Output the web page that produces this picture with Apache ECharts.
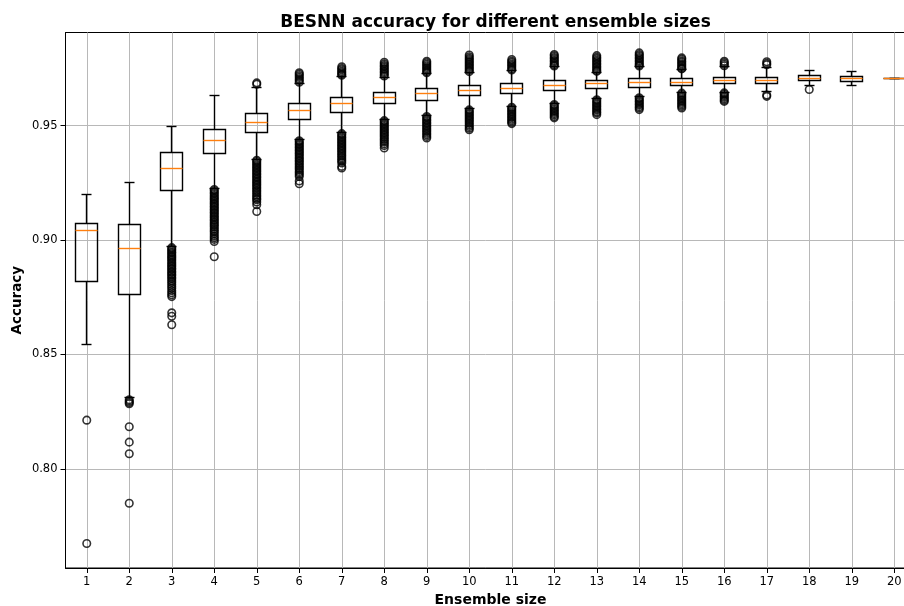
<!DOCTYPE html>
<html>
<head>
<meta charset="utf-8">
<script src="https://cdn.jsdelivr.net/npm/echarts@6/dist/echarts.min.js"></script>
<style>
  html, body { margin: 0; padding: 0; background: #fff; }
  #chart { width: 904px; height: 606px; }
</style>
</head>
<body>
<div id="chart"></div>
<script>
// Ensemble sizes on the x axis
const sizes = ['1','2','3','4','5','6','7','8','9','10','11','12','13','14','15','16','17','18','19','20'];

// Box statistics per ensemble size
const whiskerLow  = [0.8542, 0.8313, 0.8972, 0.9226, 0.9354, 0.9439, 0.9468, 0.9526, 0.9544, 0.9573,
                     0.9584, 0.9596, 0.9617, 0.9626, 0.9646, 0.9647, 0.9650, 0.9675, 0.9676, 0.9706];
const q1          = [0.8817, 0.8762, 0.9216, 0.9377, 0.9468, 0.9526, 0.9558, 0.9595, 0.9609, 0.9631,
                     0.9639, 0.9653, 0.9661, 0.9668, 0.9675, 0.9684, 0.9684, 0.9697, 0.9691, 0.9706];
const median      = [0.9042, 0.8963, 0.9312, 0.9437, 0.9513, 0.9564, 0.9595, 0.9624, 0.9640, 0.9653,
                     0.9661, 0.9676, 0.9684, 0.9689, 0.9689, 0.9698, 0.9698, 0.9707, 0.9706, 0.9706];
const q3          = [0.9071, 0.9068, 0.9381, 0.9482, 0.9551, 0.9596, 0.9624, 0.9647, 0.9662, 0.9676,
                     0.9684, 0.9698, 0.9698, 0.9706, 0.9706, 0.9711, 0.9711, 0.9720, 0.9713, 0.9706];
const whiskerHigh = [0.9199, 0.9252, 0.9497, 0.9631, 0.9665, 0.9684, 0.9716, 0.9712, 0.9728, 0.9732,
                     0.9739, 0.9758, 0.9734, 0.9758, 0.9745, 0.9757, 0.9755, 0.9742, 0.9735, 0.9706];

// Fliers beyond the whiskers, one list per ensemble size
const outliers = [
  [0.8213, 0.7674],
  [0.8302, 0.8296, 0.8290, 0.8285, 0.8184, 0.8117, 0.8066, 0.7850],
  [0.8967, 0.8961, 0.8955, 0.8948, 0.8943, 0.8936, 0.8929, 0.8924, 0.8917, 0.8911, 0.8903, 0.8897,
   0.8890, 0.8884, 0.8877, 0.8872, 0.8864, 0.8858, 0.8851, 0.8845, 0.8837, 0.8831, 0.8822, 0.8815,
   0.8806, 0.8797, 0.8789, 0.8779, 0.8770, 0.8761, 0.8753, 0.8682, 0.8667, 0.8630],
  [0.9221, 0.9215, 0.9208, 0.9202, 0.9195, 0.9188, 0.9182, 0.9176, 0.9169, 0.9162, 0.9156, 0.9149,
   0.9143, 0.9136, 0.9130, 0.9123, 0.9117, 0.9110, 0.9103, 0.9097, 0.9090, 0.9084, 0.9077, 0.9070,
   0.9064, 0.9057, 0.9049, 0.9042, 0.9035, 0.9027, 0.9018, 0.9010, 0.9003, 0.8994, 0.8927],
  [0.9687, 0.9681,
   0.9349, 0.9343, 0.9337, 0.9330, 0.9324, 0.9317, 0.9311, 0.9304, 0.9298, 0.9291, 0.9285, 0.9278,
   0.9272, 0.9265, 0.9258, 0.9252, 0.9245, 0.9239, 0.9232, 0.9225, 0.9218, 0.9211, 0.9204, 0.9196,
   0.9189, 0.9182, 0.9176, 0.9166, 0.9154, 0.9125],
  [0.9731, 0.9725, 0.9718, 0.9711, 0.9704, 0.9697, 0.9690,
   0.9434, 0.9428, 0.9421, 0.9415, 0.9408, 0.9402, 0.9395, 0.9389, 0.9382, 0.9376, 0.9369, 0.9362,
   0.9356, 0.9349, 0.9343, 0.9336, 0.9329, 0.9322, 0.9315, 0.9308, 0.9300, 0.9293, 0.9285, 0.9278,
   0.9258, 0.9246],
  [0.9757, 0.9750, 0.9744, 0.9737, 0.9731, 0.9725, 0.9720,
   0.9465, 0.9459, 0.9452, 0.9446, 0.9439, 0.9433, 0.9426, 0.9420, 0.9413, 0.9407, 0.9400, 0.9394,
   0.9387, 0.9380, 0.9373, 0.9366, 0.9359, 0.9351, 0.9344, 0.9337, 0.9322, 0.9315],
  [0.9777, 0.9770, 0.9763, 0.9757, 0.9750, 0.9744, 0.9737, 0.9731, 0.9724, 0.9717,
   0.9522, 0.9516, 0.9509, 0.9503, 0.9496, 0.9490, 0.9483, 0.9477, 0.9470, 0.9464, 0.9457, 0.9450,
   0.9443, 0.9436, 0.9429, 0.9421, 0.9413, 0.9402],
  [0.9781, 0.9775, 0.9768, 0.9762, 0.9755, 0.9749, 0.9742, 0.9736, 0.9731,
   0.9540, 0.9534, 0.9527, 0.9521, 0.9514, 0.9508, 0.9501, 0.9495, 0.9488, 0.9481, 0.9474, 0.9467,
   0.9460, 0.9453, 0.9446],
  [0.9809, 0.9801, 0.9794, 0.9788, 0.9781, 0.9775, 0.9768, 0.9762, 0.9755, 0.9749, 0.9742, 0.9736,
   0.9569, 0.9563, 0.9556, 0.9550, 0.9543, 0.9537, 0.9530, 0.9524, 0.9517, 0.9510, 0.9503, 0.9496,
   0.9489, 0.9482],
  [0.9789, 0.9782, 0.9776, 0.9769, 0.9763, 0.9756, 0.9749, 0.9743,
   0.9580, 0.9574, 0.9567, 0.9561, 0.9554, 0.9548, 0.9541, 0.9535, 0.9528, 0.9521, 0.9515, 0.9509],
  [0.9811, 0.9805, 0.9798, 0.9792, 0.9785, 0.9779, 0.9772, 0.9766, 0.9761,
   0.9592, 0.9586, 0.9579, 0.9573, 0.9566, 0.9560, 0.9553, 0.9547, 0.9540, 0.9534],
  [0.9806, 0.9799, 0.9793, 0.9786, 0.9780, 0.9773, 0.9767, 0.9760, 0.9754, 0.9747, 0.9741, 0.9737,
   0.9613, 0.9607, 0.9600, 0.9594, 0.9587, 0.9581, 0.9574, 0.9568, 0.9561, 0.9555, 0.9548],
  [0.9818, 0.9811, 0.9805, 0.9798, 0.9792, 0.9785, 0.9779, 0.9772, 0.9766, 0.9761,
   0.9622, 0.9616, 0.9609, 0.9603, 0.9596, 0.9590, 0.9583, 0.9577, 0.9570],
  [0.9796, 0.9790, 0.9783, 0.9777, 0.9770, 0.9764, 0.9757, 0.9751, 0.9748,
   0.9642, 0.9636, 0.9629, 0.9623, 0.9616, 0.9610, 0.9603, 0.9597, 0.9590, 0.9584, 0.9577],
  [0.9781, 0.9775, 0.9768, 0.9762,
   0.9643, 0.9637, 0.9630, 0.9624, 0.9617, 0.9611, 0.9606],
  [0.9779, 0.9772, 0.9766, 0.9634, 0.9628],
  [0.9658],
  [],
  []
];

// Y axis tick values
const yTicks = [0.80, 0.85, 0.90, 0.95];

const FONT = 'DejaVu Sans';
const GRID_COLOR = '#b8b8b8';
const BOX_COLOR = '#000000';
const MEDIAN_COLOR = '#ff7f0e';

const boxData = sizes.map((s, i) => [i, whiskerLow[i], q1[i], median[i], q3[i], whiskerHigh[i]]);
const flierData = [];
outliers.forEach((list, i) => list.forEach(v => flierData.push([i, v])));

function crisp(v) { return Math.round(v - 0.5) + 0.5; }

function renderBox(params, api) {
  const idx = api.value(0);
  const cx = crisp(api.coord([idx, api.value(3)])[0]);
  const yLo = crisp(api.coord([idx, api.value(1)])[1]);
  const yQ1 = crisp(api.coord([idx, api.value(2)])[1]);
  const yMed = crisp(api.coord([idx, api.value(3)])[1]);
  const yQ3 = crisp(api.coord([idx, api.value(4)])[1]);
  const yHi = crisp(api.coord([idx, api.value(5)])[1]);
  const band = api.size([1, 0])[0];
  const half = Math.round(band * 0.25);
  const cap = Math.round(band * 0.125);
  const lineStyle = { stroke: BOX_COLOR, lineWidth: 1.4, fill: null };
  return {
    type: 'group',
    children: [
      { type: 'line', shape: { x1: cx, y1: yQ3, x2: cx, y2: yHi }, style: lineStyle },
      { type: 'line', shape: { x1: cx, y1: yQ1, x2: cx, y2: yLo }, style: lineStyle },
      { type: 'line', shape: { x1: cx - cap, y1: yHi, x2: cx + cap, y2: yHi }, style: lineStyle },
      { type: 'line', shape: { x1: cx - cap, y1: yLo, x2: cx + cap, y2: yLo }, style: lineStyle },
      { type: 'rect', shape: { x: cx - half, y: yQ3, width: 2 * half, height: yQ1 - yQ3 },
        style: { stroke: BOX_COLOR, lineWidth: 1.4, fill: 'none' } },
      { type: 'line', shape: { x1: cx - half, y1: yMed, x2: cx + half, y2: yMed },
        style: { stroke: MEDIAN_COLOR, lineWidth: 1.4 } }
    ]
  };
}

const chart = echarts.init(document.getElementById('chart'), null, { renderer: 'canvas' });

chart.setOption({
  animation: false,
  backgroundColor: '#ffffff',
  title: {
    text: 'BESNN accuracy for different ensemble sizes',
    left: 490.5,
    top: 9,
    textAlign: 'center',
    textStyle: { fontFamily: FONT, fontSize: 17, fontWeight: 'bold', color: '#000' }
  },
  grid: {
    left: 65.5,
    right: -11.5,
    top: 32.5,
    bottom: 38,
    show: true,
    borderColor: '#000',
    borderWidth: 1,
    backgroundColor: 'transparent',
    containLabel: false,
    outerBoundsMode: 'none'
  },
  xAxis: {
    type: 'category',
    data: sizes,
    boundaryGap: true,
    name: 'Ensemble size',
    nameLocation: 'middle',
    nameGap: 25,
    nameMoveOverlap: false,
    nameTextStyle: { fontFamily: FONT, fontSize: 14, fontWeight: 'bold', color: '#000' },
    axisLine: { show: true, lineStyle: { color: '#000', width: 1 } },
    axisTick: { show: true, alignWithLabel: true, length: 5, lineStyle: { color: '#000' } },
    axisLabel: { interval: 0, margin: 8, fontFamily: FONT, fontSize: 11.5, color: '#000' },
    splitLine: { show: false }
  },
  yAxis: {
    type: 'value',
    min: 0.7567,
    max: 0.9907,
    name: 'Accuracy',
    nameLocation: 'middle',
    nameRotate: 90,
    nameGap: 41,
    nameMoveOverlap: false,
    nameTextStyle: { fontFamily: FONT, fontSize: 13.5, fontWeight: 'bold', color: '#000' },
    axisLine: { show: true, lineStyle: { color: '#000', width: 1 } },
    axisTick: { show: true, length: 5, customValues: yTicks, lineStyle: { color: '#000' } },
    axisLabel: {
      customValues: yTicks,
      margin: 8,
      fontFamily: FONT,
      fontSize: 11.5,
      color: '#000',
      formatter: v => Number(v).toFixed(2)
    },
    splitLine: { show: false }
  },
  series: [
    {
      // grid lines at every category and y tick
      type: 'scatter',
      data: [],
      silent: true,
      z: 0,
      markLine: {
        silent: true,
        z: 0,
        symbol: ['none', 'none'],
        label: { show: false },
        animation: false,
        lineStyle: { color: GRID_COLOR, width: 1, type: 'solid' },
        emphasis: { disabled: true },
        data: sizes.map(s => ({ xAxis: s })).concat(yTicks.map(v => ({ yAxis: v })))
      }
    },
    {
      type: 'custom',
      name: 'accuracy',
      renderItem: renderBox,
      data: boxData,
      encode: { x: 0, y: [1, 2, 3, 4, 5] },
      z: 2,
      silent: true
    },
    {
      type: 'scatter',
      name: 'fliers',
      data: flierData,
      symbol: 'circle',
      symbolSize: 7.5,
      itemStyle: { color: 'rgba(0,0,0,0)', borderColor: '#000', borderWidth: 1.6 },
      z: 3,
      silent: true
    }
  ]
});
</script>
</body>
</html>
